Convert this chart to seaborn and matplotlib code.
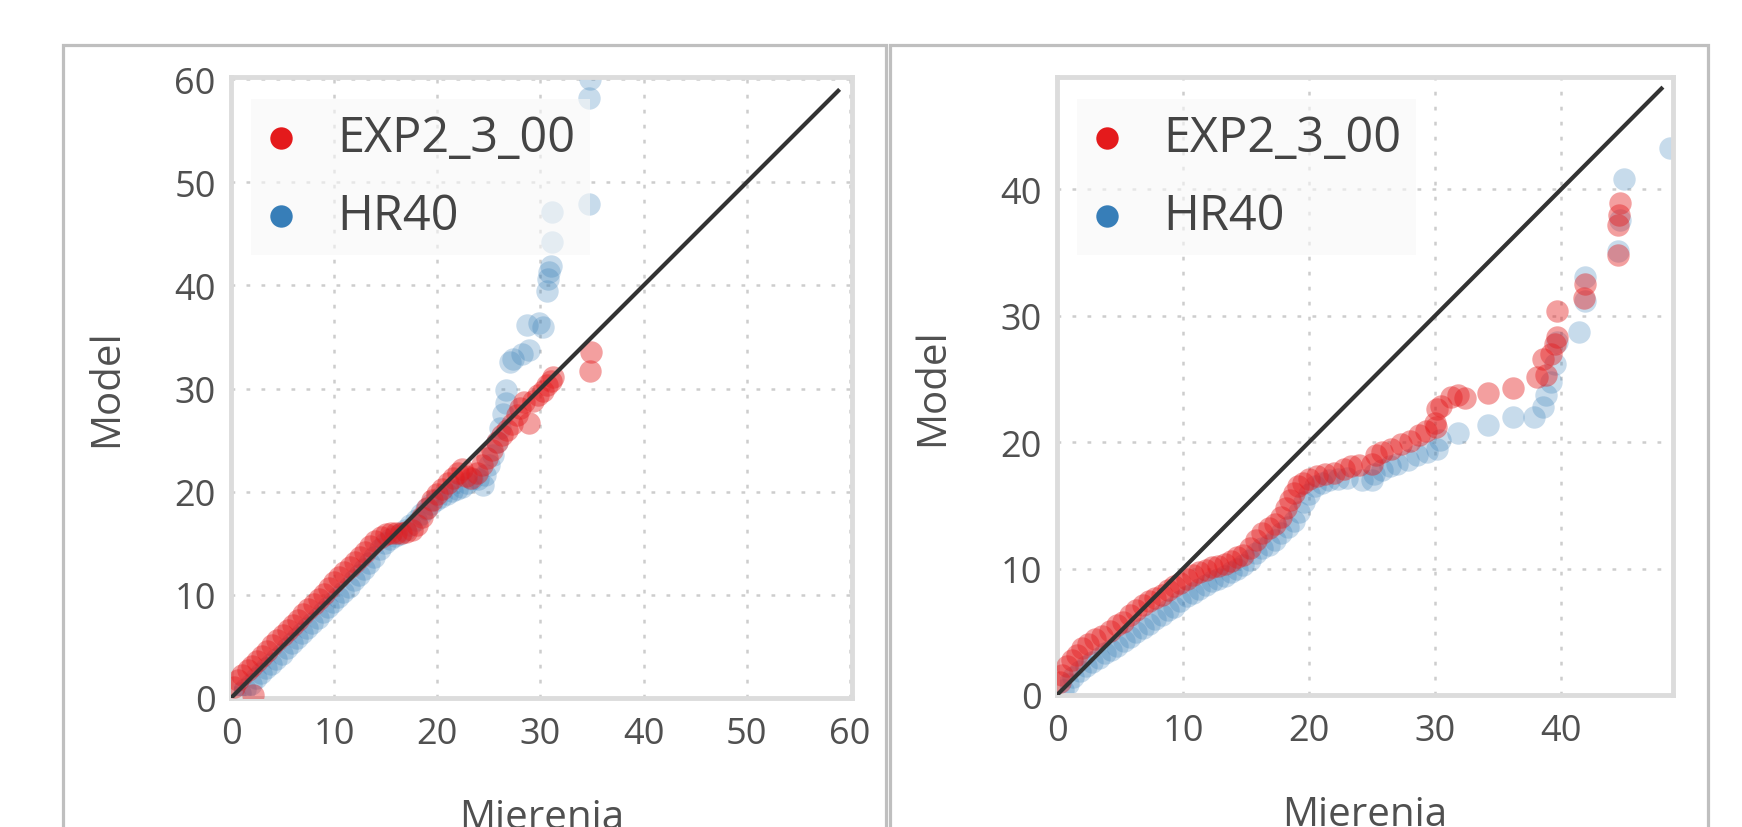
import matplotlib
matplotlib.use("Agg")
import matplotlib.pyplot as plt
import seaborn as sns
import pandas as pd
from matplotlib.patches import Rectangle

left_exp_x = [0.3, 0.7, 1.1, 1.6, 2.0, 2.5, 3.0, 3.5, 4.0, 4.5, 5.0, 5.5, 6.0, 6.5, 7.0, 7.5, 8.0, 8.5, 9.0, 9.5,
              10.0, 10.5, 11.0, 11.5, 12.0, 12.5, 13.0, 13.5, 14.0, 14.5, 15.0, 15.5, 16.0, 16.5, 17.0, 17.5, 18.0, 18.5, 19.0, 19.5,
              20.0, 20.5, 21.0, 21.5, 22.0, 22.4, 22.8, 23.3, 23.8, 24.3, 24.8, 25.3, 25.8, 26.3, 26.8, 27.2, 27.7, 28.0, 28.4, 28.9,
              29.3, 29.8, 30.2, 30.6, 31.0, 31.2, 34.8, 34.9, 2.1]
left_exp_y = [1.1, 1.7, 2.2, 2.7, 3.1, 3.6, 4.1, 4.6, 5.1, 5.6, 6.1, 6.6, 7.1, 7.6, 8.1, 8.6, 9.1, 9.6, 10.1, 10.7,
              11.2, 11.7, 12.2, 12.7, 13.2, 13.7, 14.2, 14.7, 15.2, 15.6, 15.9, 16.0, 16.0, 16.0, 16.1, 16.3, 16.8, 17.5, 18.4, 19.2,
              19.8, 20.3, 20.8, 21.3, 21.8, 22.2, 21.5, 21.3, 21.8, 22.6, 23.3, 24.0, 24.8, 25.5, 26.0, 26.6, 27.4, 28.1, 28.7, 26.7,
              28.8, 29.4, 29.8, 30.3, 30.7, 31.1, 31.7, 33.5, 0.3]
left_hr_x = [0.4, 0.9, 1.4, 1.9, 2.4, 2.9, 3.4, 3.9, 4.4, 4.9, 5.4, 5.9, 6.4, 6.9, 7.4, 7.9, 8.4, 8.9, 9.4, 9.9,
             10.4, 10.9, 11.4, 11.9, 12.4, 12.9, 13.4, 13.9, 14.4, 14.9, 15.4, 15.9, 16.4, 16.9, 17.4, 17.9, 18.4, 18.9, 19.4, 19.9,
             20.4, 20.9, 21.4, 21.9, 22.4, 22.9, 23.4, 23.9, 24.4, 24.6, 25.0, 25.4, 25.8, 26.1, 26.4, 26.7, 26.7, 27.0, 27.3, 28.2,
             28.9, 28.7, 29.9, 30.2, 30.6, 30.7, 30.8, 31.0, 31.1, 31.1, 34.7, 34.7, 34.8]
left_hr_y = [0.1, 0.5, 0.9, 1.4, 1.9, 2.4, 2.9, 3.3, 3.8, 4.3, 4.8, 5.3, 5.8, 6.3, 6.8, 7.3, 7.8, 8.3, 8.8, 9.3,
             9.8, 10.3, 10.8, 11.4, 11.9, 12.5, 13.1, 13.7, 14.4, 15.0, 15.4, 15.7, 15.9, 16.3, 16.8, 17.3, 17.8, 18.3, 18.8, 19.2,
             19.5, 19.8, 20.1, 20.3, 20.5, 20.8, 21.2, 21.2, 20.6, 21.6, 22.6, 23.6, 24.8, 26.2, 27.5, 28.6, 29.9, 32.6, 32.9, 33.3,
             33.7, 36.2, 36.4, 36.0, 39.5, 40.6, 41.3, 41.9, 44.2, 47.1, 47.9, 58.2, 60.0]

right_exp_x = [0.2, 0.4, 0.8, 1.2, 1.6, 2.0, 2.5, 3.0, 3.6, 4.2, 4.8, 5.2, 5.8, 6.3, 6.8, 7.3, 7.8, 8.3, 8.8, 9.3,
               9.8, 10.3, 10.8, 11.3, 11.8, 12.3, 12.8, 13.3, 13.8, 14.3, 14.8, 15.3, 15.8, 16.3, 16.8, 17.3, 17.8, 18.2, 18.5, 18.8,
               19.1, 19.5, 20.0, 20.6, 21.3, 22.0, 22.8, 23.3, 25.0, 25.3, 25.8, 26.5, 27.3, 28.0, 28.7, 29.3, 30.0, 30.1, 30.2, 30.5,
               31.3, 31.8, 32.4, 34.2, 36.2, 38.1, 38.6, 38.8, 39.2, 39.5, 39.7, 39.7, 41.8, 41.9, 44.5, 44.5, 44.6, 44.7, 24.0]
right_exp_y = [1.0, 1.6, 2.3, 2.8, 3.2, 3.7, 4.0, 4.4, 4.7, 5.1, 5.5, 5.8, 6.3, 6.7, 7.1, 7.4, 7.7, 7.9, 8.3, 8.6,
               8.9, 9.2, 9.5, 9.7, 9.9, 10.1, 10.2, 10.4, 10.6, 10.9, 11.1, 11.6, 12.3, 12.8, 13.2, 13.5, 14.1, 14.8, 15.4, 16.0,
               16.5, 16.8, 17.1, 17.3, 17.5, 17.6, 17.9, 18.1, 18.3, 19.0, 19.2, 19.5, 19.9, 20.1, 20.6, 20.9, 21.5, 21.2, 22.6, 22.9,
               23.6, 23.7, 23.5, 23.9, 24.3, 25.2, 26.6, 25.3, 27.0, 27.8, 28.3, 30.4, 31.4, 32.5, 34.8, 37.2, 38.0, 38.9, 18.2]
right_hr_x = [0.5, 0.9, 1.3, 1.8, 2.3, 2.8, 3.3, 3.8, 4.3, 4.8, 5.3, 5.8, 6.3, 6.8, 7.3, 7.8, 8.3, 8.8, 9.3, 9.8,
              10.3, 10.8, 11.3, 11.8, 12.3, 12.8, 13.3, 13.8, 14.3, 14.8, 15.3, 15.8, 16.3, 16.8, 17.3, 17.8, 18.3, 18.8, 19.2, 19.6,
              20.0, 20.5, 21.0, 21.6, 22.3, 23.0, 25.0, 25.2, 25.8, 26.4, 27.0, 27.9, 28.6, 29.4, 30.2, 30.4, 31.8, 34.2, 36.2, 37.9,
              38.6, 38.8, 39.2, 39.5, 39.7, 41.4, 41.9, 41.9, 44.5, 44.7, 45.0, 48.7, 24.2]
right_hr_y = [0.4, 0.9, 1.4, 1.9, 2.3, 2.6, 2.9, 3.3, 3.6, 3.9, 4.3, 4.6, 5.0, 5.3, 5.6, 6.0, 6.3, 6.7, 7.0, 7.4,
              7.8, 8.1, 8.4, 8.7, 9.0, 9.2, 9.4, 9.7, 10.0, 10.3, 10.7, 11.2, 11.6, 11.9, 12.3, 12.8, 13.3, 13.8, 14.5, 15.3,
              15.9, 16.5, 16.8, 17.0, 17.1, 17.2, 17.0, 17.5, 17.8, 18.1, 18.3, 18.6, 19.0, 19.2, 19.5, 20.2, 20.7, 21.4, 22.0, 22.0,
              22.8, 23.7, 24.8, 26.2, 27.9, 28.7, 31.2, 33.1, 35.1, 37.6, 40.8, 43.3, 17.0]

series_names = ["EXP2_3_00", "HR40"]
series_colors = ["#e41a1c", "#377eb8"]
diag_end = [59.0, 48.1]
axis_max = [60.2, 48.9]
left_ticks = [0, 10, 20, 30, 40, 50, 60]
right_ticks = [0, 10, 20, 30, 40]
x_label = "Mierenia"
y_label = "Model"

sns.set_theme(style="white")
plt.rcParams["font.family"] = ["Open Sans", "DejaVu Sans"]

W, H = 1742, 828
fig = plt.figure(figsize=(W / 100, H / 100), dpi=100)
fig.patch.set_facecolor("white")

# outer panel frames
fig.add_artist(Rectangle((63 / W, -0.1), (886 - 63) / W, (H - 46) / H + 0.1, transform=fig.transFigure,
                         fill=False, edgecolor="#bfbfbf", linewidth=2.3))
fig.add_artist(Rectangle((890 / W, -0.1), (1708 - 890) / W, (H - 46) / H + 0.1, transform=fig.transFigure,
                         fill=False, edgecolor="#bfbfbf", linewidth=2.3))

ax1 = fig.add_axes([231 / W, (H - 699) / H, (852 - 231) / W, (699 - 78) / H])
ax2 = fig.add_axes([1057 / W, (H - 696) / H, (1673 - 1057) / W, (696 - 78) / H])

panels = [
    (ax1, left_exp_x, left_exp_y, left_hr_x, left_hr_y, left_ticks, 0),
    (ax2, right_exp_x, right_exp_y, right_hr_x, right_hr_y, right_ticks, 1),
]

for ax, ex, ey, hx, hy, ticks, i in panels:
    df_exp = pd.DataFrame({"x": ex, "y": ey})
    df_hr = pd.DataFrame({"x": hx, "y": hy})
    sns.scatterplot(data=df_hr, x="x", y="y", ax=ax, color=series_colors[1], alpha=0.28,
                    s=260, linewidth=0, label=series_names[1], zorder=2)
    sns.scatterplot(data=df_exp, x="x", y="y", ax=ax, color=series_colors[0], alpha=0.42,
                    s=260, linewidth=0, label=series_names[0], zorder=3)
    ax.plot([0, diag_end[i]], [0, diag_end[i]], color="#333333", linewidth=3, zorder=4,
            solid_capstyle="butt")

    ax.set_xlim(0, axis_max[i])
    ax.set_ylim(0, axis_max[i])
    ax.set_xticks(ticks)
    ax.set_yticks(ticks)
    ax.grid(True, color="#cdcdcd", linestyle=(0, (1.5, 4.5)), linewidth=1.8)
    ax.tick_params(length=0, labelsize=26, labelcolor="#505050")
    ax.tick_params(axis="x", pad=13)
    ax.tick_params(axis="y", pad=11)
    for sp in ax.spines.values():
        sp.set_color("#dcdcdc")
        sp.set_linewidth(3.5)

    ax.set_xlabel(x_label, fontsize=29, color="#505050")
    ax.set_ylabel(y_label, fontsize=29, color="#505050")
    ax.xaxis.label.set_verticalalignment("baseline")
    ax.yaxis.label.set_verticalalignment("baseline")
    bbox = ax.get_position()
    ax_w = bbox.width * W
    ax_h = bbox.height * H
    ax.xaxis.set_label_coords(0.5, -130 / ax_h)
    ax.yaxis.set_label_coords(-114 / ax_w, 0.5)

    handles, labels = ax.get_legend_handles_labels()
    order = [labels.index(n) for n in series_names]
    leg = ax.legend([handles[k] for k in order], [labels[k] for k in order],
                    loc="upper left", bbox_to_anchor=(20 / ax_w, 1 - 22 / ax_h), borderaxespad=0,
                    fontsize=35, frameon=True, fancybox=False, facecolor="#f8f8f8", edgecolor="none",
                    framealpha=0.6, borderpad=0.3, labelspacing=0.58, handlelength=0.62,
                    handletextpad=0.85, labelcolor="#444444")
    for h in leg.legend_handles:
        h.set_alpha(1)

fig.savefig("out.png", dpi=100, facecolor="white")
